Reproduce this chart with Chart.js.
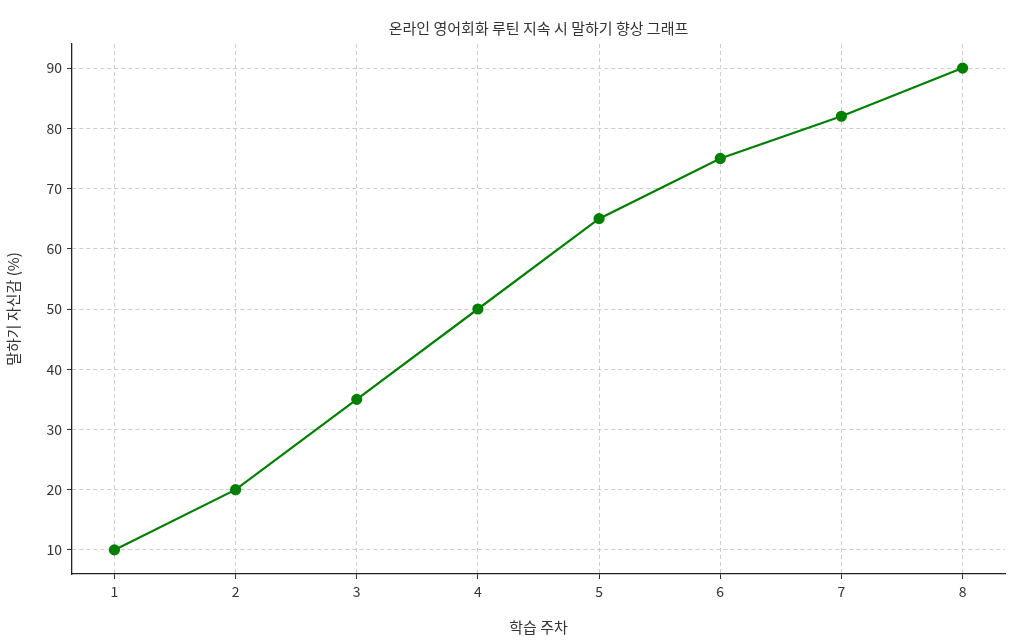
<!DOCTYPE html>
<html>
<head>
<meta charset="utf-8">
<script src="https://cdn.jsdelivr.net/npm/chart.js@4/dist/chart.umd.min.js"></script>
<style>
  html, body { margin: 0; padding: 0; background: #fff; }
  #wrap { width: 1024px; height: 640px; position: relative; }
</style>
</head>
<body>
<div id="wrap"><canvas id="c" width="1024" height="640"></canvas></div>
<script>
  // data
  const weeks      = [1, 2, 3, 4, 5, 6, 7, 8];
  const confidence = [10, 20, 35, 50, 65, 75, 82, 90];
  const yTicks     = [10, 20, 30, 40, 50, 60, 70, 80, 90];

  const FONT = "'Noto Sans CJK KR', 'Noto Sans', sans-serif";
  const TEXT = "#333";

  // title drawn above chart area
  const titlePlugin = {
    id: "topTitle",
    afterDraw: function (chart) {
      const ctx = chart.ctx;
      ctx.save();
      ctx.font = "15px " + FONT;
      ctx.fillStyle = TEXT;
      ctx.textAlign = "center";
      ctx.textBaseline = "middle";
      ctx.fillText("온라인 영어회화 루틴 지속 시 말하기 향상 그래프",
        (chart.chartArea.left + chart.chartArea.right) / 2, 28);
      ctx.restore();
    },
  };

  new Chart(document.getElementById("c").getContext("2d"), {
    type: "line",
    data: {
      datasets: [{
        data: weeks.map(function (w, i) { return { x: w, y: confidence[i] }; }),
        borderColor: "#008000",
        backgroundColor: "#008000",
        borderWidth: 2.2,
        pointRadius: 4.5,
        pointHoverRadius: 4.5,
        tension: 0,
      }],
    },
    options: {
      responsive: false,
      animation: false,
      layout: { padding: { top: 44, right: 19, left: 0, bottom: 0 } },
      plugins: { legend: { display: false }, title: { display: false }, tooltip: { enabled: false } },
      scales: {
        x: {
          type: "linear",
          min: 0.65, max: 8.35,
          afterBuildTicks: function (s) { s.ticks = weeks.map(function (v) { return { value: v }; }); },
          afterFit: function (s) { s.height = 66; },
          grid: { color: "#ccc", lineWidth: 1, tickColor: "#333", tickLength: 5 },
          border: { display: true, color: "#222", width: 1.3, dash: [4, 3] },
          ticks: { color: TEXT, font: { family: FONT, size: 14 }, padding: 4 },
          title: { display: true, text: "학습 주차", color: TEXT, font: { family: FONT, size: 15 }, padding: { top: 2 } },
        },
        y: {
          min: 6, max: 94,
          afterBuildTicks: function (s) { s.ticks = yTicks.map(function (v) { return { value: v }; }); },
          afterFit: function (s) { s.width = 72; },
          grid: { color: "#ccc", lineWidth: 1, tickColor: "#333", tickLength: 5 },
          border: { display: true, color: "#222", width: 1.3, dash: [4, 3] },
          ticks: { color: TEXT, font: { family: FONT, size: 14 }, padding: 5 },
          title: { display: true, text: "말하기 자신감 (%)", color: TEXT, font: { family: FONT, size: 15 }, padding: { bottom: 6 } },
        },
      },
    },
    plugins: [titlePlugin],
  });
</script>
</body>
</html>
